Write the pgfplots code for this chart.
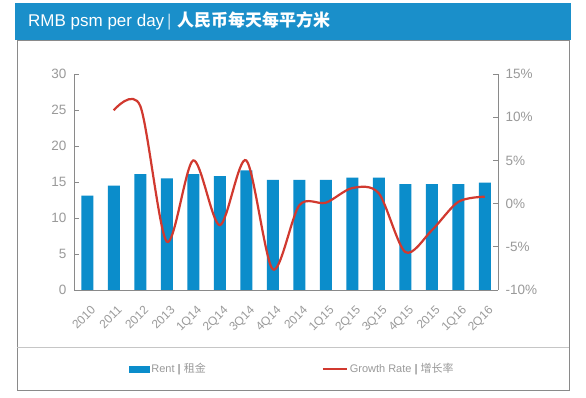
\documentclass[border=0pt]{standalone}
\usepackage{fontspec}
\setmainfont{Liberation Sans}
\newfontfamily\cjk{Noto Sans CJK SC}
\usepackage{pgfplots}
\pgfplotsset{compat=1.18}
\definecolor{bannerblue}{HTML}{1A8FCA}
\definecolor{barblue}{HTML}{0B8DCB}
\definecolor{linered}{HTML}{D1392F}
\definecolor{ticklab}{HTML}{9A9A9A}
\definecolor{axgray}{HTML}{8A8A8A}
\begin{document}
\begin{tikzpicture}
\path[use as bounding box, fill=white] (0pt,0pt) rectangle (586pt,398pt);
\fill[bannerblue] (15pt,358pt) rectangle (571pt,395pt);
\draw[axgray, line width=0.8pt] (17pt,8pt) rectangle (569pt,358pt);
\draw[gray!45, line width=0.8pt] (17pt,51pt) -- (569pt,51pt);
\node[anchor=west, text=white, inner sep=0pt] at (28pt,377pt)
  {\fontsize{17}{19}\selectfont RMB psm per day\,{\color{white!70!bannerblue}|}\,\,{\cjk\bfseries 人民币每天每平方米}};

\begin{axis}[
  at={(74pt,108pt)}, anchor=south west,
  scale only axis, width=424pt, height=216pt,
  xmin=-0.5, xmax=15.5,
  ymin=0, ymax=30,
  ytick={0,5,...,30},
  axis y line*=left, axis x line*=bottom,
  axis line style={axgray, line width=0.8pt},
  tick style={axgray, line width=0.8pt},
  tick align=inside, major tick length=5pt,
  xtick=data,
  xticklabels={2010,2011,2012,2013,1Q14,2Q14,3Q14,4Q14,2014,1Q15,2Q15,3Q15,4Q15,2015,1Q16,2Q16},
  xtick style={draw=none},
  xticklabel style={rotate=45, anchor=north east, font=\fontsize{12}{14}\selectfont, text=ticklab, inner sep=0pt, xshift=-8.5pt, yshift=-12.5pt},
  yticklabel style={font=\fontsize{13.5}{15}\selectfont, text=ticklab, /pgf/number format/assume math mode=true},
  yticklabel shift=4pt,
]
\addplot[ybar, bar width=12pt, fill=barblue, draw=none] coordinates {
(0,13.1) (1,14.5) (2,16.1) (3,15.5) (4,16.1) (5,15.8) (6,16.6) (7,15.3)
(8,15.3) (9,15.3) (10,15.6) (11,15.6) (12,14.7) (13,14.7) (14,14.7) (15,14.9)};
\end{axis}

\begin{axis}[
  at={(74pt,108pt)}, anchor=south west,
  scale only axis, width=424pt, height=216pt,
  xmin=-0.5, xmax=15.5,
  ymin=-10, ymax=15,
  ytick={-10,-5,0,5,10,15},
  yticklabels={-10\%,-5\%,0\%,5\%,10\%,15\%},
  axis y line*=right, axis x line=none,
  axis line style={axgray, line width=0.8pt},
  tick style={axgray, line width=0.8pt},
  tick align=inside, major tick length=5pt,
  yticklabel style={font=\fontsize{13.5}{15}\selectfont, text=ticklab},
  yticklabel shift=4pt,
  legend columns=2,
  legend style={at={(0.515,-0.366)}, anchor=center, draw=none, fill=none,
    font=\fontsize{11}{13}\selectfont, text=ticklab,
    /tikz/every even column/.append style={column sep=114pt}},
]
\addlegendimage{legend image code/.code={\fill[barblue] (0pt,-3pt) rectangle (20pt,3pt);}}
\addlegendentry{Rent {\bfseries |} {\cjk 租金}}
\addplot[smooth, linered, line width=2.2pt,
  legend image code/.code={\draw[linered, line width=2pt] (0pt,0pt) -- (24pt,0pt);}] coordinates {
(1,10.8) (2,11.3) (3,-4.4) (4,5.0) (5,-2.5) (6,5.0) (7,-7.6) (8,-0.2)
(9,0.1) (10,1.8) (11,1.2) (12,-5.6) (13,-3.1) (14,0.2) (15,0.8)};
\addlegendentry{Growth Rate {\bfseries |} {\cjk 增长率}}
\end{axis}
\end{tikzpicture}
\end{document}
